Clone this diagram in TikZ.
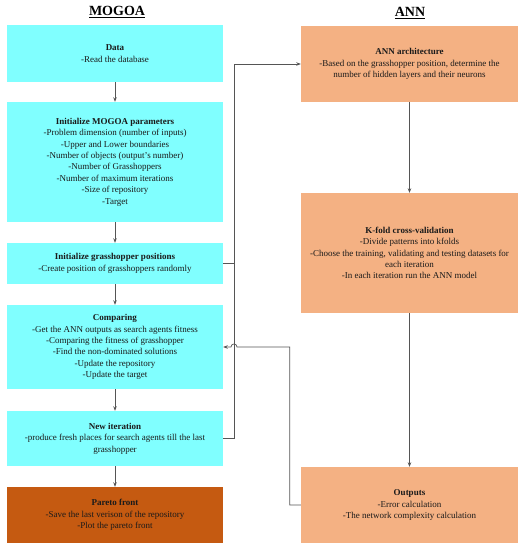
\documentclass[tikz,border=0pt]{standalone}
\usepackage{fontspec}
\setmainfont{Liberation Serif}
\usetikzlibrary{arrows.meta}
\definecolor{cyanbox}{HTML}{80FFFF}
\definecolor{orabox}{HTML}{F4B183}
\definecolor{parbox}{HTML}{C55A11}
\definecolor{linec}{HTML}{555555}
\definecolor{txt}{HTML}{1A1A1A}
\begin{document}
\begin{tikzpicture}[x=1pt,y=-1pt,
  box/.style={draw=none,inner sep=0pt,align=center,text=txt,
    font=\fontsize{9}{11.4}\selectfont},
  lbox/.style={box,fill=cyanbox,minimum width=216pt},
  rbox/.style={box,fill=orabox,minimum width=217pt},
  pbox/.style={box,fill=parbox,minimum width=216pt},
  title/.style={font=\fontsize{14}{16}\selectfont\bfseries,text=black},
  conn/.style={draw=linec,line width=0.7pt},
  arr/.style={conn,-{Stealth[length=4.5pt,width=3.5pt]}}]
\useasboundingbox (0,0) rectangle (523,550);
\node[title] (t1) at (117,12) {\underline{MOGOA}};
\node[title] (t2) at (410,13) {\underline{ANN}};
\node[lbox,minimum height=57pt] (data) at (115,53.5) {\textbf{Data}\\-Read the database};
\node[lbox,minimum height=120pt] (init) at (115,162) {\textbf{Initialize MOGOA parameters}\\-Problem dimension (number of inputs)\\-Upper and Lower boundaries\\-Number of objects (output's number)\\-Number of Grasshoppers\\-Number of maximum iterations\\-Size of repository\\-Target};
\node[lbox,minimum height=41pt] (gh) at (115,263.5) {\textbf{Initialize grasshopper positions}\\-Create position of grasshoppers randomly};
\node[lbox,minimum height=84pt] (comp) at (115,347) {\textbf{Comparing}\\-Get the ANN outputs as search agents fitness\\-Comparing the fitness of grasshopper\\-Find the non-dominated solutions\\-Update the repository\\-Update the target};
\node[lbox,minimum height=55pt] (new) at (115,438.5) {\textbf{New iteration}\\-produce fresh places for search agents till the last\\grasshopper};
\node[pbox,minimum height=56pt] (par) at (115,515) {\textbf{Pareto front}\\-Save the last verison of the repository\\-Plot the pareto front};
\node[rbox,minimum height=76pt] (arch) at (409.5,64) {\textbf{ANN architecture}\\-Based on the grasshopper position, determine the\\number of hidden layers and their neurons};
\node[rbox,minimum height=120pt] (kf) at (409.5,253) {\textbf{K-fold cross-validation}\\-Divide patterns into kfolds\\-Choose the training, validating and testing datasets for\\each iteration\\-In each iteration run the ANN model};
\node[rbox,minimum height=76pt] (out) at (409.5,505) {\textbf{Outputs}\\-Error calculation\\-The network complexity calculation};
\draw[arr] (data) -- (init);
\draw[arr] (init) -- (gh);
\draw[arr] (gh) -- (comp);
\draw[arr] (comp) -- (new);
\draw[arr] (new) -- (par);
\draw[arr] (arch) -- (kf);
\draw[arr] (kf) -- (out);
\coordinate (bus) at (234,64);
\coordinate (j1) at (gh.east -| bus);
\coordinate (hopR) at (237,347);
\coordinate (hopL) at (231,347);
\draw[arr] (gh.east) -| (bus) -- (arch.west);
\draw[conn] (new.east) -| (j1);
\draw[arr] (out.west) -- ++(-11,0) |- (hopR) .. controls (237,343) and (231,343) .. (hopL) -- (comp.east);
\end{tikzpicture}
\end{document}
